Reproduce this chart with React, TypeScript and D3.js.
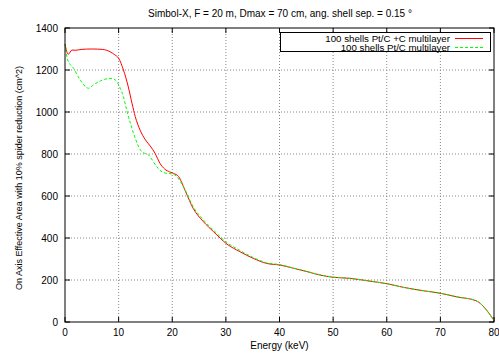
import React from "react";
import * as d3 from "d3";

const redE = [0, 0.6, 1.3, 2, 3, 5, 7, 8.4, 9.3, 10, 10.9, 11.8, 12.5, 13.1, 14, 15, 15.9, 16.8, 17.7, 18.6, 19.5, 20.2, 21.2, 22.5, 23.9, 25.8, 27.7, 30.2, 32.6, 35.1, 37.6, 40.1, 42.6, 45.1, 47.5, 50, 53.1, 56.2, 60.3, 63.1, 66.8, 70.2, 73, 76.6, 80];
const redV = [1324, 1275, 1295, 1294, 1298, 1300, 1298, 1287, 1272, 1256, 1200, 1120, 1041, 978, 914, 867, 838, 803, 756, 728, 715, 708, 692, 620, 541, 478, 430, 371, 335, 303, 279, 271, 256, 240, 224, 213, 208, 197, 181, 165, 149, 136, 120, 102, 8];

const greenE = [0, 0.5, 1.6, 2.85, 4.4, 5.3, 6.6, 8.4, 9.4, 10.3, 10.9, 11.5, 12.2, 13.1, 14.3, 15.6, 17.1, 18.4, 19.9, 20.5, 22.1, 23.9, 25.8, 27.7, 30.2, 32.6, 35.1, 37.6, 40.1, 42.6, 45.1, 47.5, 50, 53.1, 56.2, 60.3, 63.1, 66.8, 70.2, 73, 76.6, 80];
const greenV = [1324, 1248, 1208, 1152, 1113, 1129, 1148, 1160, 1152, 1113, 1073, 1010, 946, 875, 811, 795, 740, 711, 705, 700, 644, 549, 486, 437, 378, 341, 307, 282, 273, 257, 241, 225, 214, 208, 197, 181, 165, 149, 136, 120, 102, 8];

const xTicks = [0, 10, 20, 30, 40, 50, 60, 70, 80];
const yTicks = [0, 200, 400, 600, 800, 1000, 1200, 1400];

const seriesNames = ["100 shells Pt/C +C multilayer", "100 shells Pt/C multilayer"];

const title = "Simbol-X, F = 20 m, Dmax = 70 cm, ang. shell sep. = 0.15 °";
const xLabel = "Energy (keV)";
const yLabel = "On Axis Effective Area with 10% spider reduction (cm^2)";

export default function App() {
  const W = 499, H = 354;
  const L = 65, R = 494, T = 28, B = 322;
  const x = d3.scaleLinear().domain([0, 80]).range([L, R]);
  const y = d3.scaleLinear().domain([0, 1400]).range([B, T]);
  const line = d3.line<[number, number]>().x(d => x(d[0])).y(d => y(d[1])).curve(d3.curveMonotoneX);
  const red = redE.map((e, i) => [e, redV[i]] as [number, number]);
  const green = greenE.map((e, i) => [e, greenV[i]] as [number, number]);
  const font = "Liberation Sans, Arial, sans-serif";
  const tl = 5;
  return (
    <svg width={W} height={H} style={{ position: "absolute", left: 0, top: 0, background: "#fff" }} fontFamily={font}>
      <rect x={0} y={0} width={W} height={H} fill="#fff" />
      <text x={280} y={17} fontSize={10} textAnchor="middle">{title}</text>
      {/* grid */}
      {xTicks.slice(1, -1).map(t => (
        <line key={"gx" + t} x1={x(t)} x2={x(t)} y1={T} y2={B} stroke="#888" strokeWidth={1} strokeDasharray="1,2" />
      ))}
      {yTicks.slice(1, -1).map(t => (
        <line key={"gy" + t} x1={L} x2={R} y1={y(t)} y2={y(t)} stroke="#888" strokeWidth={1} strokeDasharray="1,2" />
      ))}
      {/* ticks */}
      {xTicks.map(t => (
        <g key={"tx" + t}>
          <line x1={x(t)} x2={x(t)} y1={B} y2={B - tl} stroke="#000" />
          <line x1={x(t)} x2={x(t)} y1={T} y2={T + tl} stroke="#000" />
          <text x={x(t)} y={336} fontSize={10} textAnchor="middle">{t}</text>
        </g>
      ))}
      {yTicks.map(t => (
        <g key={"ty" + t}>
          <line x1={L} x2={L + tl} y1={y(t)} y2={y(t)} stroke="#000" />
          <line x1={R} x2={R - tl} y1={y(t)} y2={y(t)} stroke="#000" />
          <text x={58} y={y(t) + 3.5} fontSize={10} textAnchor="end">{t}</text>
        </g>
      ))}
      {/* legend */}
      <rect x={280.5} y={32.5} width={210} height={19} fill="#fff" stroke="#000" />
      <text x={450} y={41.5} fontSize={9.7} textAnchor="end">{seriesNames[0]}</text>
      <line x1={455} x2={483} y1={38.5} y2={38.5} stroke="#ff0000" strokeWidth={1} />
      <text x={450} y={51} fontSize={9.7} textAnchor="end">{seriesNames[1]}</text>
      <line x1={455} x2={483} y1={47.5} y2={47.5} stroke="#00ff00" strokeWidth={1} strokeDasharray="3,2" />
      {/* curves */}
      <path d={line(red) || ""} fill="none" stroke="#ff0000" strokeWidth={1} />
      <path d={line(green) || ""} fill="none" stroke="#00ff00" strokeWidth={1} strokeDasharray="3,2" />
      {/* border */}
      <rect x={L} y={T} width={R - L} height={B - T} fill="none" stroke="#000" strokeWidth={1} />
      <text x={(L + R) / 2} y={349} fontSize={10} textAnchor="middle">{xLabel}</text>
      <text transform={`translate(22,178) rotate(-90)`} fontSize={9} textAnchor="middle">{yLabel}</text>
    </svg>
  );
}
